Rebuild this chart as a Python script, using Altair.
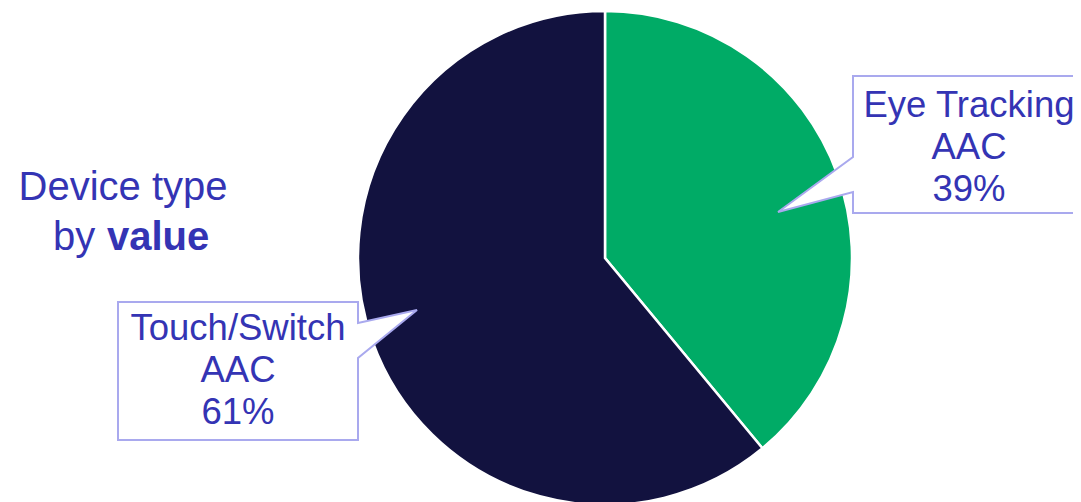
import altair as alt
import pandas as pd

# ---- data ----
categories = ["Eye Tracking AAC", "Touch/Switch AAC"]
label_names = ["Eye Tracking\nAAC", "Touch/Switch\nAAC"]
shares = [39, 61]
colors = ["#00AB66", "#12123F"]
title_line1 = "Device type"
title_line2_regular = "by"
title_line2_bold = "value"

TEXT_COLOR = "#3434B4"
BORDER = "#A9A9EE"
FONT = "Liberation Sans"
FS = 36.5
FS_TITLE = 40

W, H = 1065, 494


def P(px, py):
    # page pixel -> chart pixel (page has 8px margin)
    return px - 8, py - 8


pie_df = pd.DataFrame({"category": categories, "share": shares, "idx": list(range(len(categories)))})

cx, cy = P(605, 258)
pie = alt.Chart(pie_df).mark_arc(outerRadius=247, stroke="white", strokeWidth=2.5).encode(
    theta=alt.Theta("share:Q", stack=True),
    color=alt.Color("category:N", scale=alt.Scale(domain=categories, range=colors), legend=None),
    order=alt.Order("idx:Q"),
    x=alt.value(cx),
    y=alt.value(cy),
)


def callout_path(points, center, k=100.0):
    ox, oy = center
    parts = []
    for i, (px, py) in enumerate(points):
        parts.append(("M" if i == 0 else "L") + f"{(px - ox) / k:.4f},{(py - oy) / k:.4f}")
    return " ".join(parts) + " Z"


# callout outlines (page coordinates)
eye_center = (968, 145)
eye_pts = [(853, 76), (1110, 76), (1110, 213), (853, 213), (853, 192), (778, 212), (853, 157)]
touch_center = (238, 371)
touch_pts = [(118, 302), (358, 302), (358, 323), (417, 310), (358, 358), (358, 440), (118, 440)]

dummy = pd.DataFrame({"a": [0]})


def callout_layer(pts, center):
    x, y = P(*center)
    return alt.Chart(dummy).mark_point(
        shape=callout_path(pts, center),
        size=40000,
        filled=True,
        fill="white",
        stroke=BORDER,
        strokeWidth=2,
        opacity=1,
        strokeJoin="miter",
    ).encode(x=alt.value(x), y=alt.value(y))


eye_box = callout_layer(eye_pts, eye_center)
touch_box = callout_layer(touch_pts, touch_center)

label_pos = [P(969, 106), P(238, 329)]
lab_df = pd.DataFrame({
    "label": [f"{n}\n{s}%" for n, s in zip(label_names, shares)],
    "tx": [p[0] for p in label_pos],
    "ty": [p[1] for p in label_pos],
})
labels = alt.Chart(lab_df).mark_text(
    font=FONT, fontSize=FS, color=TEXT_COLOR, lineBreak="\n", lineHeight=42,
    align="center", baseline="middle",
).encode(
    text="label:N",
    x=alt.X("tx:Q", scale=None),
    y=alt.Y("ty:Q", scale=None),
)

t1x, t1y = P(123, 188)
t2x, t2y = P(53, 238)
t3x, t3y = P(107, 238)
title1 = alt.Chart(dummy).mark_text(
    font=FONT, fontSize=FS_TITLE, color=TEXT_COLOR, align="center", baseline="middle", text=title_line1
).encode(x=alt.value(t1x), y=alt.value(t1y))
title2 = alt.Chart(dummy).mark_text(
    font=FONT, fontSize=FS_TITLE, color=TEXT_COLOR, align="left", baseline="middle", text=title_line2_regular
).encode(x=alt.value(t2x), y=alt.value(t2y))
title3 = alt.Chart(dummy).mark_text(
    font=FONT, fontSize=FS_TITLE, fontWeight="bold", color=TEXT_COLOR, align="left", baseline="middle",
    text=title_line2_bold
).encode(x=alt.value(t3x), y=alt.value(t3y))

chart = alt.layer(pie, eye_box, touch_box, labels, title1, title2, title3).properties(
    width=W, height=H, padding=0, autosize=alt.AutoSizeParams(type="none"), background="white"
).configure_view(stroke=None)

chart.save("out.html", embed_options={"renderer": "svg", "actions": False})
